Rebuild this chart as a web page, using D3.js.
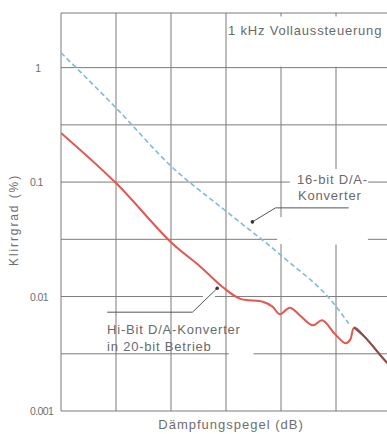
<!DOCTYPE html>
<html>
<head>
<meta charset="utf-8">
<script src="https://cdn.jsdelivr.net/npm/d3@7"></script>
<style>
  body { margin: 0; background: #fff; }
  svg text { font-family: "Liberation Sans", Arial, sans-serif; }
</style>
</head>
<body>
<script>
// Daempfung in dB (horizontal, no labels in the original)
var xTicks = [0, 10, 20, 30, 40, 50, 60];
// Klirrgrad grid: decades and half decades
var yTicks = [0.001, 0.00316, 0.01, 0.0316, 0.1, 0.316, 1, 3];
var yLabels = ["0.001", "", "0.01", "", "0.1", "", "1", ""];

// 16-bit D/A-Konverter (dashed blue)
var dB16 = [0, 10, 20, 30, 40, 50, 52.3];
var thd16 = [1.35, 0.445, 0.138, 0.0557, 0.0229, 0.0082, 0.0058];

// Hi-Bit D/A-Konverter in 20-bit Betrieb (red)
var dBHi = [0, 10, 20, 25.3, 29.5, 32.5, 36.7, 38.4, 39.8, 41.6, 43.5, 45.8, 47.5, 49.8, 51.8, 52.6, 53.3, 55.3, 59.3, 60];
var thdHi = [0.269, 0.098, 0.0298, 0.0183, 0.0120, 0.0096, 0.0090, 0.0082, 0.0070, 0.0080, 0.0068, 0.0056, 0.0062, 0.0047, 0.0039, 0.0042, 0.00535, 0.0044, 0.00264, 0.0025];

var width = 387, height = 434;
var plotLeft = 61, plotTop = 13, plotRight = 391, plotBottom = 411;

var svg = d3.select("body").append("svg")
  .attr("width", width)
  .attr("height", height);

svg.append("rect").attr("width", width).attr("height", height).attr("fill", "#fff");

var x = d3.scaleLinear().domain([0, 60]).range([plotLeft, plotRight]);
var y = d3.scaleLog().domain([0.001, 3]).range([plotBottom, plotTop]);

var gridColor = "#7d7b7d";

// grid
svg.append("g").selectAll("line")
  .data(xTicks).enter().append("line")
  .attr("x1", function(d) { return x(d); })
  .attr("x2", function(d) { return x(d); })
  .attr("y1", plotTop).attr("y2", plotBottom)
  .attr("stroke", gridColor).attr("stroke-width", 1);

svg.append("g").selectAll("line")
  .data(yTicks).enter().append("line")
  .attr("x1", plotLeft).attr("x2", plotRight)
  .attr("y1", function(d) { return y(d); })
  .attr("y2", function(d) { return y(d); })
  .attr("stroke", gridColor).attr("stroke-width", 1);

// white gaps in the grid where the labels sit
var gaps = [
  [30.5, 0.0018, 35, 0.0058],    // Hi-Bit label
  [30.3, 1.02, 60, 2.8],         // title top right
  [41.6, 0.0285, 55.8, 0.13],    // 16-bit label
  [39.3, 0.0288, 41.6, 0.0495],
  [25.8, 0.0093, 28.0, 0.0108]
];
svg.append("g").selectAll("rect")
  .data(gaps).enter().append("rect")
  .attr("x", function(d) { return x(d[0]); })
  .attr("y", function(d) { return y(d[3]); })
  .attr("width", function(d) { return x(d[2]) - x(d[0]); })
  .attr("height", function(d) { return y(d[1]) - y(d[3]); })
  .attr("fill", "#fff");

// y tick labels
svg.append("g").selectAll("text")
  .data(yTicks).enter().append("text")
  .attr("x", 30)
  .attr("y", function(d) { return y(d) + 4; })
  .attr("font-size", "10.5px")
  .attr("fill", "#6e6e6e")
  .attr("letter-spacing", "-0.6px")
  .text(function(d, i) { return yLabels[i] == "1" ? "\u20071" : yLabels[i]; });

// axis titles
svg.append("text")
  .attr("transform", "translate(18,220) rotate(-90)")
  .attr("text-anchor", "middle")
  .attr("font-size", "12px")
  .attr("letter-spacing", "1.9px")
  .attr("fill", "#6e6e6e")
  .text("Klirrgrad (%)");

svg.append("text")
  .attr("x", 231).attr("y", 429)
  .attr("text-anchor", "middle")
  .attr("font-size", "13px")
  .attr("letter-spacing", "1px")
  .attr("fill", "#6e6e6e")
  .text("Dämpfungspegel (dB)");

// annotations
var annSize = "13px", annSpacing = "0.8px";

svg.append("text")
  .attr("x", 228).attr("y", 35)
  .attr("font-size", annSize)
  .attr("letter-spacing", annSpacing)
  .attr("fill", "#6a6a6a")
  .text("1 kHz Vollaussteuerung");

var lab16 = svg.append("text").attr("font-size", annSize)
  .attr("letter-spacing", annSpacing).attr("fill", "#6a6a6a");
lab16.append("tspan").attr("x", 297).attr("y", 184).text("16-bit D/A-");
lab16.append("tspan").attr("x", 298).attr("y", 200).text("Konverter");

var labHi = svg.append("text").attr("font-size", annSize)
  .attr("letter-spacing", annSpacing).attr("fill", "#6a6a6a");
labHi.append("tspan").attr("x", 107).attr("y", 334).text("Hi-Bit D/A-Konverter");
labHi.append("tspan").attr("x", 107).attr("y", 351).text("in 20-bit Betrieb");

// leader lines (dB, value)
var leaders = [
  [[52.3, 0.0595], [39.0, 0.0595], [34.8, 0.0449]],
  [[8.4, 0.0073], [23.9, 0.0073], [28.4, 0.0118]]
];
var lineGen = d3.line()
  .x(function(d) { return x(d[0]); })
  .y(function(d) { return y(d[1]); });

svg.append("g").selectAll("path")
  .data(leaders).enter().append("path")
  .attr("d", lineGen)
  .attr("fill", "none")
  .attr("stroke", "#555")
  .attr("stroke-width", 1);

svg.append("g").selectAll("circle")
  .data(leaders).enter().append("circle")
  .attr("cx", function(d) { return x(d[2][0]); })
  .attr("cy", function(d) { return y(d[2][1]); })
  .attr("r", 1.8)
  .attr("fill", "#333");

// curves
svg.append("clipPath").attr("id", "plot")
  .append("rect").attr("x", plotLeft).attr("y", plotTop)
  .attr("width", plotRight - plotLeft).attr("height", plotBottom - plotTop);

var curve = d3.line()
  .x(function(d) { return x(d[0]); })
  .y(function(d) { return y(d[1]); })
  .curve(d3.curveCatmullRom.alpha(0.5));

var hiData = dBHi.map(function(d, i) { return [d, thdHi[i]]; });
var data16 = dB16.map(function(d, i) { return [d, thd16[i]]; });

var plot = svg.append("g").attr("clip-path", "url(#plot)");

plot.append("path")
  .datum(hiData)
  .attr("d", curve)
  .attr("fill", "none")
  .attr("stroke", "#e2574f")
  .attr("stroke-width", 2);

// both curves run together after the last peak
plot.append("path")
  .datum(hiData.filter(function(d) { return d[0] >= 53.3; }))
  .attr("d", curve)
  .attr("fill", "none")
  .attr("stroke", "#84504f")
  .attr("stroke-width", 2);

plot.append("path")
  .datum(data16)
  .attr("d", d3.line()
    .x(function(d) { return x(d[0]); })
    .y(function(d) { return y(d[1]); })
    .curve(d3.curveMonotoneX))
  .attr("fill", "none")
  .attr("stroke", "#7fb9dc")
  .attr("stroke-width", 1.6)
  .attr("stroke-dasharray", "5,3");
</script>
</body>
</html>
